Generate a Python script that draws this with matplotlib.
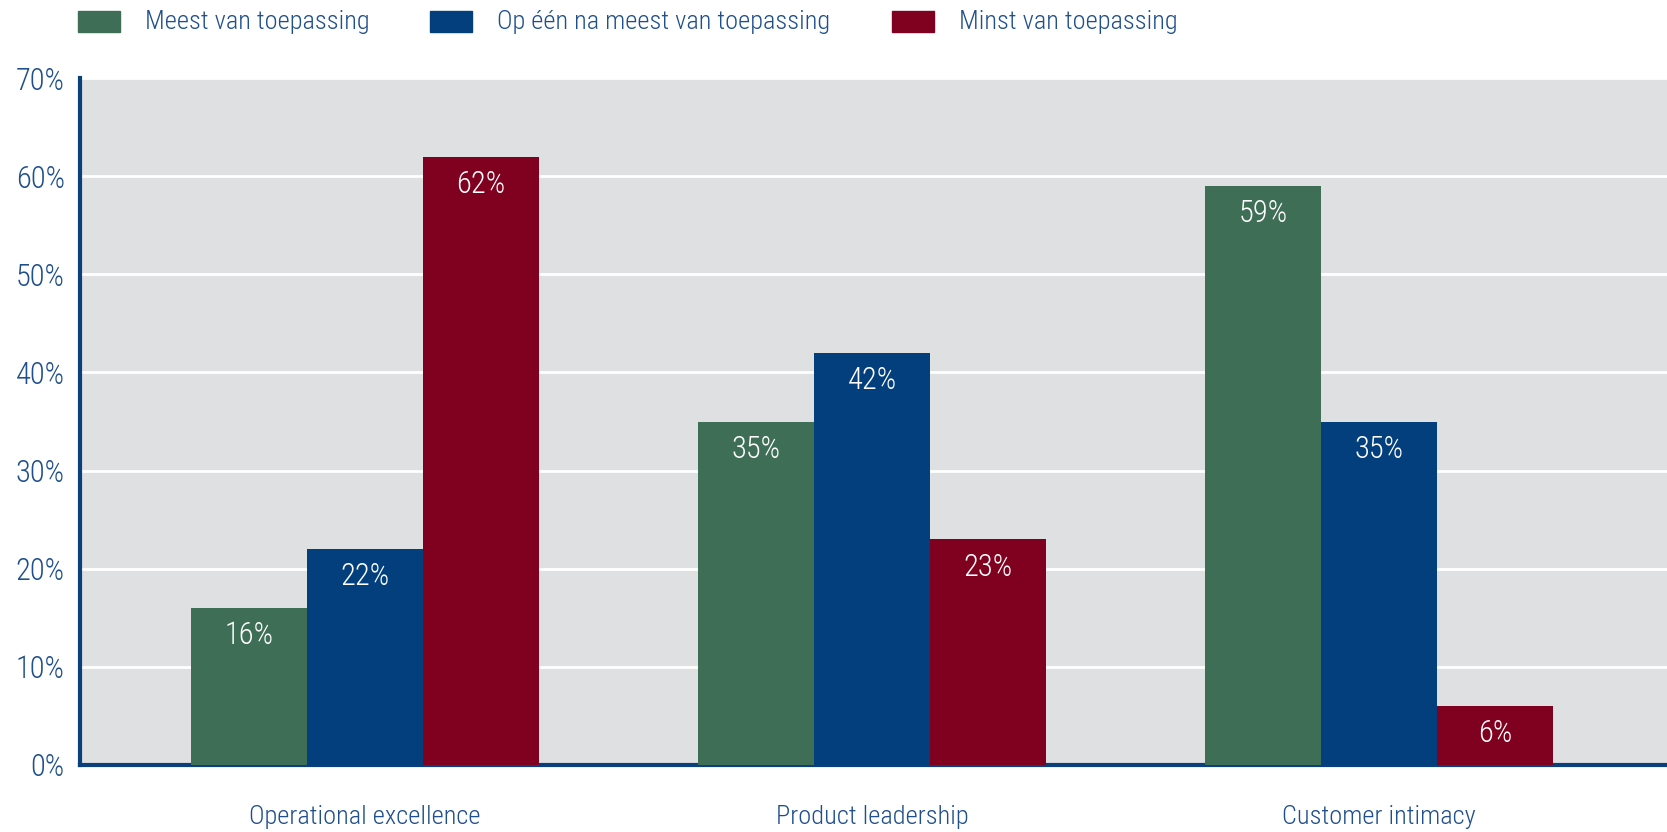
import numpy as np
import matplotlib.pyplot as plt
from matplotlib.patches import Rectangle

plt.rcParams['font.family'] = ['Roboto Condensed', 'DejaVu Sans']
plt.rcParams['font.weight'] = 300

categories = ["Operational excellence", "Product leadership", "Customer intimacy"]
series_names = ["Meest van toepassing", "Op één na meest van toepassing", "Minst van toepassing"]
meest = [16, 35, 59]
op_een_na = [22, 42, 35]
minst = [62, 23, 6]
y_ticks = [0, 10, 20, 30, 40, 50, 60, 70]

colors = ["#3e6f56", "#023f7c", "#80001f"]
text_blue = "#1f4f8c"
axis_blue = "#0b3f7c"
fs = 19      # legend and category labels
fs_num = 22  # percentages

fig = plt.figure(figsize=(16.67, 8.32), dpi=100)
ax = fig.add_axes([80 / 1667, 67 / 832, 1 - 80 / 1667, (765 - 78) / 832])
ax.set_facecolor("#dfe0e2")

x = np.arange(len(categories))
w = 0.229
for k, vals in enumerate([meest, op_een_na, minst]):
    bars = ax.bar(x + (k - 1) * w, vals, width=w, color=colors[k], zorder=3)
    for b, v in zip(bars, vals):
        ax.text(b.get_x() + b.get_width() / 2, v - 3.7, f"{v}%", ha="center", va="baseline",
                color="white", fontsize=fs_num, zorder=4)

ax.set_xlim(-0.562, 2.568)
ax.set_ylim(0, 70)
ax.set_yticks(y_ticks)
ax.set_yticklabels([f"{t}%" for t in y_ticks], fontsize=fs_num, color=text_blue)
ax.set_xticks(x)
ax.set_xticklabels(categories, fontsize=fs, color=text_blue)
ax.tick_params(axis="both", length=0)
ax.tick_params(axis="x", pad=29)
ax.tick_params(axis="y", pad=11)
ax.grid(axis="y", color="white", linewidth=2, zorder=1)
for s in ["top", "right"]:
    ax.spines[s].set_visible(False)
for s in ["left", "bottom"]:
    ax.spines[s].set_color(axis_blue)
    ax.spines[s].set_linewidth(3)
ax.spines["left"].set_bounds(0, 70)

# legend across the top
leg_x = [78, 430, 892]
for lx, name, c in zip(leg_x, series_names, colors):
    fig.add_artist(Rectangle((lx / 1667, 1 - 32 / 832), 42 / 1667, 21 / 832,
                             transform=fig.transFigure, color=c))
    fig.text((lx + 67) / 1667, 1 - 29 / 832, name, fontsize=fs, color=text_blue,
             va="baseline", ha="left")

fig.savefig("out.png", dpi=100)
